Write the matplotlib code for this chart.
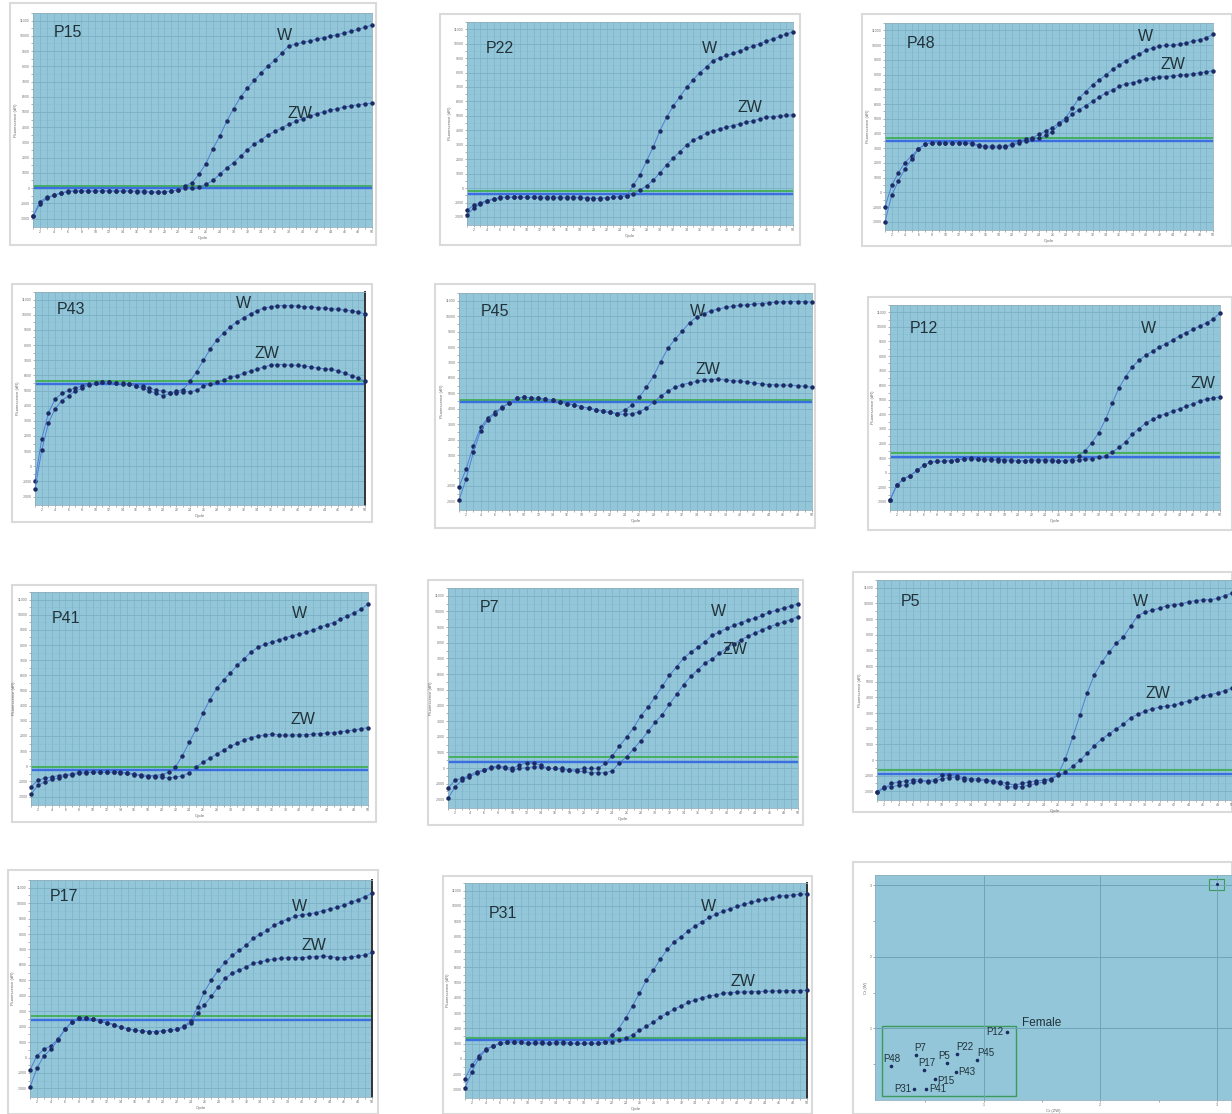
import numpy as np
import matplotlib.pyplot as plt
from matplotlib.patches import Rectangle

plt.rcParams['font.family'] = ['Liberation Sans', 'DejaVu Sans']

W_PX, H_PX = 1232, 1114

# amplification data (0 = bottom of plot, 100 = top)
cycles = np.arange(1, 51)

p15_w = [5, 12, 14, 15, 16, 17, 17, 17, 17, 17,
         17, 17, 17, 17, 17, 17, 17, 16.5, 16.5, 16.5,
         17, 17.5, 19.5, 21, 25, 30, 37, 43, 50, 56,
         61.5, 65.7, 69.3, 73, 76.3, 79, 82.5, 85.7, 86.5, 87.3,
         88, 88.8, 89.5, 90.2, 91, 91.8, 92.6, 93.5, 94.5, 95.5]
p15_zw = [5, 11, 13.5, 15, 16, 16.5, 17, 17, 17, 17,
          17, 17, 17, 17, 17, 16.5, 16.5, 16.5, 16.5, 16.5,
          17, 17.5, 18.4, 18.5, 19, 20.2, 22, 25, 28, 30.4,
          33.5, 36.6, 39.2, 41.3, 43.6, 45.2, 47, 48.6, 50, 51.3,
          52.5, 53.5, 54.5, 55.3, 56, 56.7, 57.3, 57.8, 58.2, 58.6]

p22_w = [7.3, 9.8, 11, 12.2, 13, 13.8, 13.8, 13.8, 13.8, 13.8,
         13.8, 13.8, 13.8, 13.8, 13.8, 13.8, 13.8, 13.8, 13.5, 13.3,
         13.3, 13.5, 13.8, 14.2, 14.6, 19.8, 25, 32, 39, 47,
         53.7, 59.3, 64, 68.6, 72.4, 76, 78.9, 82, 83.4, 84.5,
         85.6, 86.8, 88, 89.2, 90.4, 91.6, 92.8, 94, 95.2, 96.3]
p22_zw = [4.9, 8.5, 10.5, 12, 12.8, 13.5, 13.8, 13.8, 13.8, 13.8,
          13.8, 13.5, 13.5, 13.5, 13.5, 13.5, 13.5, 13.5, 13.2, 13.2,
          13.2, 13.5, 13.8, 14.2, 14.6, 15.4, 17.5, 19.5, 22.4, 26,
          30, 33.3, 36.6, 39.8, 42.3, 44, 45.9, 46.7, 48, 48.8,
          49.6, 50.4, 51.2, 52, 52.8, 53.7, 54, 54.3, 54.6, 55]

p48_w = [4, 17, 24, 30, 34.7, 39.5, 42, 42.7, 42.7, 42.7,
         42.7, 42.7, 42.7, 42.5, 41.5, 41, 41, 41, 41, 42,
         43.5, 44.4, 45, 46.8, 48.4, 50, 52.4, 54.8, 59.7, 64.5,
         67.7, 71, 73.4, 75.8, 78.5, 80.6, 82.7, 84.7, 86, 88,
         89, 89.8, 90.3, 90.3, 90.8, 91.4, 92.4, 93, 94, 95.6]
p48_zw = [11.3, 21.8, 28, 33, 36.3, 39.5, 42, 42.7, 42.7, 42.7,
          42.7, 42.7, 42.5, 42, 41, 40.5, 40.5, 40.5, 40.5, 41.5,
          42.5, 43.5, 44.4, 44.8, 46.3, 48, 51.6, 54, 56.5, 58.9,
          60.8, 63, 65, 67, 68.5, 70.2, 71.5, 72, 73, 73.7,
          74.2, 74.7, 75, 75.3, 75.6, 76, 76.4, 76.8, 77.3, 77.9]

p43_w = [7.6, 26, 39, 45.8, 49.6, 52, 54.2, 55.5, 57.2, 58,
         58.5, 58.5, 58, 57.5, 57.3, 56.5, 55.4, 54.2, 53, 52,
         53, 54, 54.8, 58.8, 63.4, 68.7, 74, 78.6, 81.7, 84.7,
         87, 89, 90.8, 92.4, 93.6, 94.2, 94.7, 94.7, 94.7, 94.5,
         94.2, 94, 93.8, 93.5, 93.2, 93, 92.6, 92.2, 91.6, 90.8]
p43_zw = [11.5, 31.3, 43.8, 50.4, 53, 54.5, 55.7, 56.5, 57.5, 58,
          58.5, 58.5, 58, 57.8, 57.3, 56.5, 56.5, 55.7, 54.5, 54.2,
          53.4, 53.4, 53.8, 53.8, 54.5, 56.5, 57.5, 58.5, 59.5, 60.6,
          61.5, 62.6, 63.7, 64.6, 65.6, 66.4, 66.7, 66.7, 66.4, 66.4,
          66, 65.6, 65, 64.7, 64.4, 63.8, 62.6, 61.5, 60.3, 58.8]

p45_w = [4.6, 14.6, 27, 37, 42, 45, 47.7, 50, 52.3, 52.6,
         52.3, 52, 51.8, 51.2, 50.5, 49.6, 49, 48.2, 47.4, 46.8,
         46, 45.5, 45, 46.5, 49, 52.6, 57.2, 62.5, 69.2, 75.4,
         79.7, 83.4, 87.4, 90, 91.5, 93, 93.7, 94.5, 95, 95.4,
         95.7, 96, 96.3, 96.6, 96.9, 97, 97.2, 97.2, 97.2, 96.9]
p45_zw = [10.8, 19.2, 30, 38.5, 43, 45.5, 48, 50, 52, 52.6,
          52.3, 52, 51.8, 51.2, 50.5, 49.6, 49, 48.2, 47.4, 46.8,
          46, 45.5, 44.8, 44.6, 44.8, 45.8, 47.4, 50.5, 53, 55.4,
          57.2, 58.5, 59.2, 60, 60.5, 60.8, 61, 60.6, 60.3, 60,
          59.7, 59.2, 58.8, 58.5, 58.3, 58.2, 58.2, 58, 57.7, 57.2]

p12_w = [4.9, 12.2, 15.4, 17, 19.5, 22, 23.6, 24, 24, 24.4,
         24.9, 25.2, 25.5, 25.3, 25, 25, 25, 24.8, 24.6, 24.4,
         24.4, 24.6, 24.8, 24.8, 24.6, 24.4, 24.4, 24.8, 26.8, 29.3,
         33.3, 38.2, 44.7, 52.8, 60.2, 65.9, 70.7, 74, 76.4, 78.4,
         80.5, 82, 84, 86, 87.6, 89.2, 90.8, 92.5, 94.3, 97.3]
p12_zw = [4.9, 12.2, 15.4, 17, 19.5, 22, 23.6, 24, 24, 24.4,
          24.9, 25.2, 25.2, 25, 24.8, 24.6, 24.4, 24.4, 24.2, 24.2,
          24.2, 24.4, 24.4, 24.4, 24.2, 24, 24.2, 24.4, 24.6, 25,
          25.3, 26, 26.8, 28.5, 30.9, 33.7, 37.4, 40.2, 43, 44.7,
          46.3, 47.6, 48.8, 50, 51.2, 52.5, 53.7, 54.8, 55.3, 55.8]

p41_w = [8.6, 11.7, 12.8, 13.3, 14, 14.4, 14.8, 15.6, 15.6, 15.6,
         15.6, 15.6, 15.6, 15.6, 15.3, 14.8, 14.4, 14, 14, 14.4,
         15.6, 18, 23.4, 29.7, 36, 43.7, 50, 55.5, 59.4, 62.8,
         66.4, 69.5, 72.7, 75, 76.3, 77.4, 78.4, 79.5, 80.5, 81.2,
         82, 83.1, 84.4, 85.6, 86.7, 88.3, 89.8, 91.4, 93, 95.6]
p41_zw = [5, 9.4, 10.9, 12.2, 12.8, 13.8, 14.4, 15, 15.3, 15.6,
          15.6, 15.6, 15.6, 15.3, 15, 14.4, 13.8, 13.5, 13.3, 13.3,
          12.8, 13.3, 13.8, 15.3, 18, 20.3, 22.2, 24.2, 26.1, 27.8,
          29.4, 31, 32, 32.8, 33.3, 33.6, 33.3, 33.1, 33.3, 33.3,
          33.4, 33.6, 33.9, 34.1, 34.4, 34.8, 35.2, 35.6, 36.3, 36.7]

p7_w = [9, 12.9, 13.6, 15, 16.7, 17.4, 18.9, 19.2, 18.9, 18.2,
        19.7, 20.8, 20.5, 19.7, 18.2, 18.2, 18.2, 17.4, 17.7, 18.2,
        18.2, 18.2, 20.5, 23.8, 28.5, 32.6, 37, 42.4, 46.5, 51,
        56, 61, 65, 69, 71.7, 74, 76.5, 79.5, 81, 82.6,
        84, 85.3, 86.4, 87.4, 88.6, 90, 91, 92, 92.9, 94]
p7_zw = [4.5, 9.8, 12.9, 14.4, 15.9, 17.4, 18.2, 18.9, 18.2, 17.4,
         18.2, 18.5, 18.9, 18.9, 18.2, 18.2, 17.7, 17.4, 16.8, 16.8,
         16.2, 16.2, 16.2, 17.1, 20.8, 23.5, 27.3, 31, 35.2, 39.4,
         43, 47.7, 52.3, 56.8, 60.6, 63.6, 66.7, 68.6, 71.2, 73.5,
         75.5, 77.3, 79, 80.5, 82, 83.3, 84.5, 85.5, 86.7, 88]

p5_w = [3.8, 5.3, 7.6, 8.3, 8.8, 9.4, 9.1, 8.8, 9.4, 11.4,
        11.4, 10.9, 10.3, 9.8, 9.7, 9.4, 8.8, 8.3, 7.6, 6.8,
        7.6, 8.3, 8.8, 9.1, 9.8, 11.8, 19, 28.8, 39, 49.2,
        57.6, 63.3, 67.9, 72, 75, 80, 84.8, 86.4, 87.4, 88.2,
        89.4, 89.8, 90.2, 91.2, 91.7, 92.1, 92.1, 92.7, 94, 95.2]
p5_zw = [3.8, 6, 6, 6.8, 6.8, 8.3, 8.6, 8.3, 8.6, 9.8,
         10.3, 10.3, 9.4, 9.1, 9.1, 8.8, 8.3, 7.6, 6, 6,
         6.2, 6.8, 7.6, 8.3, 9.4, 11.4, 12.9, 15.5, 18.2, 21.5,
         25, 28, 30.3, 32.6, 34.8, 37.9, 39.4, 40.9, 42, 42.7,
         43.2, 43.6, 44.7, 45.5, 46.7, 47.7, 48.5, 49.2, 50.3, 51.5]

p17_w = [4.6, 13.5, 19.2, 22.3, 26.5, 31.5, 35, 37, 37, 36.5,
         35.4, 34.6, 33.8, 32.6, 31.8, 31.2, 30.8, 30.5, 30.5, 30.8,
         31.1, 31.5, 33, 35.4, 41.8, 49.2, 54.6, 59.2, 63, 66,
         68.5, 70.8, 74, 76, 77.7, 80, 81.8, 83, 84.3, 85,
         85.4, 86, 86.9, 87.7, 88.5, 89.5, 90.8, 92, 93.5, 95]
p17_zw = [12.6, 19.2, 22.3, 23.8, 27, 31.5, 35, 37, 37, 36.5,
          35.4, 34.6, 33.8, 32.6, 31.8, 31.2, 30.8, 30.5, 30.5, 30.8,
          31.1, 31.5, 32.5, 34.6, 39.2, 43, 47, 51.5, 55.4, 57.7,
          59.2, 60.8, 62.3, 63, 63.8, 64.3, 64.6, 65, 65, 65,
          65.2, 65.4, 65.8, 65.4, 65, 65, 65.2, 65.8, 66.2, 67.4]

p31_w = [4.7, 12.4, 19, 22.5, 24.5, 25.7, 26.2, 26.5, 26.2, 25.7,
         26.2, 26.2, 25.7, 26.2, 26.2, 26, 25.7, 25.7, 25.9, 25.7,
         26.2, 29.8, 32.6, 37.5, 43.4, 49.3, 55.5, 60.2, 65.4, 70,
         73.6, 76, 78.8, 80.9, 83, 85, 86.5, 88, 89.1, 90.2,
         91.2, 92.1, 93, 93.6, 94.3, 94.9, 95.3, 95.6, 95.8, 96.1]
p31_zw = [9, 15.5, 20, 23, 24.5, 25.7, 26.2, 26.2, 26.2, 25.7,
          25.7, 25.7, 25.7, 25.9, 25.9, 25.7, 25.7, 25.7, 25.7, 25.7,
          26.2, 26.5, 27.1, 28.2, 29.8, 31.8, 33.8, 35.7, 38, 40,
          41.9, 43.4, 45, 46.2, 47.3, 48, 48.5, 49.3, 49.6, 49.8,
          49.9, 50, 50.1, 50.2, 50.3, 50.4, 50.5, 50.5, 50.6, 50.7]

# threshold lines (green, blue)
thresholds = {
    "P15": (19.6, 18.5), "P22": (17.0, 15.4), "P48": (45.0, 43.5),
    "P43": (58.8, 57.5), "P45": (51.5, 50.5), "P12": (28.1, 26.3),
    "P41": (18.0, 16.7), "P7": (23.5, 21.2), "P5": (14.0, 12.1),
    "P17": (37.7, 35.8), "P31": (28.4, 27.5),
}

# scatter of samples
samples = ["P12", "P7", "P48", "P17", "P5", "P22", "P45", "P43", "P15", "P31", "P41"]
ct_x = [1.20, 0.42, 0.21, 0.49, 0.69, 0.77, 0.94, 0.76, 0.58, 0.40, 0.51]
ct_y = [0.95, 0.63, 0.47, 0.42, 0.51, 0.64, 0.56, 0.39, 0.29, 0.15, 0.15]
control_x, control_y = [3.0], [3.01]

# layout: axes box in px (x0, x1, y0, y1), frame box, text positions
panels = [
    ("P15", p15_w, p15_zw, (33, 372, 13, 227), (10, 376, 3, 245), (0.06, 0.91), (0.72, 0.895), (0.75, 0.53)),
    ("P22", p22_w, p22_zw, (467, 793, 22, 225), (440, 800, 14, 245), (0.056, 0.87), (0.72, 0.87), (0.83, 0.58)),
    ("P48", p48_w, p48_zw, (885, 1213, 23, 230), (862, 1232, 14, 246), (0.066, 0.9), (0.77, 0.935), (0.84, 0.8)),
    ("P43", p43_w, p43_zw, (35, 365, 292, 505), (12, 372, 284, 522), (0.066, 0.92), (0.61, 0.946), (0.665, 0.71)),
    ("P45", p45_w, p45_zw, (459, 812, 293, 510), (435, 815, 284, 528), (0.063, 0.915), (0.655, 0.915), (0.67, 0.646)),
    ("P12", p12_w, p12_zw, (890, 1220, 305, 510), (868, 1232, 297, 530), (0.06, 0.886), (0.76, 0.886), (0.91, 0.618)),
    ("P41", p41_w, p41_zw, (31, 368, 592, 805), (12, 376, 585, 822), (0.062, 0.875), (0.775, 0.9), (0.77, 0.4)),
    ("P7", p7_w, p7_zw, (448, 798, 588, 808), (428, 803, 580, 825), (0.09, 0.91), (0.75, 0.894), (0.785, 0.72)),
    ("P5", p5_w, p5_zw, (877, 1232, 580, 800), (853, 1232, 572, 812), (0.066, 0.9), (0.72, 0.9), (0.755, 0.485)),
    ("P17", p17_w, p17_zw, (30, 372, 880, 1097), (8, 378, 870, 1114), (0.058, 0.923), (0.765, 0.877), (0.795, 0.7)),
    ("P31", p31_w, p31_zw, (465, 807, 883, 1098), (443, 812, 876, 1114), (0.068, 0.86), (0.69, 0.89), (0.775, 0.54)),
]

BG = "#92c6d8"
DOT = "#1c2b63"
TXT = "#22323a"


def px_box(box):
    x0, x1, y0, y1 = box
    return [x0 / W_PX, 1 - y1 / H_PX, (x1 - x0) / W_PX, (y1 - y0) / H_PX]


def add_frame(fig, box):
    l, b, w, h = px_box(box)
    fig.patches.append(Rectangle((l, b), w, h, transform=fig.transFigure,
                                 facecolor="white", edgecolor="#dadada", lw=1.5, zorder=-5))


def amp_panel(fig, name, w, zw, box, name_pos, w_pos, zw_pos):
    ax = fig.add_axes(px_box(box))
    ax.set_facecolor(BG)
    ax.set_xlim(1, 50)
    ax.set_ylim(0, 100)
    ax.set_xticks(np.arange(2, 51, 2))
    ax.set_xticks(cycles, minor=True)
    yt = np.arange(4, 100, 7.2)
    ax.set_yticks(yt)
    ax.set_yticks(yt + 3.6, minor=True)
    ax.grid(which="major", axis="y", color="#7bb0c4", lw=0.6)
    ax.grid(which="minor", axis="y", color="#7fb3c7", lw=0.5, ls=(0, (1, 2)))
    ax.grid(which="both", axis="x", color="#7fb3c7", lw=0.5)
    ax.set_xticklabels([str(c) for c in range(2, 51, 2)], fontsize=2.5, color="#666")
    ax.set_yticklabels([str((i - 2) * 1000) for i in range(len(yt))], fontsize=2.5, color="#666")
    ax.tick_params(which="both", length=1.5, width=0.4, pad=1, colors="#777")
    ax.tick_params(axis="x", labelcolor="#666")
    ax.set_xlabel("Cycle", fontsize=3, color="#666", labelpad=1)
    ax.set_ylabel("Fluorescence (dR)", fontsize=3, color="#666", labelpad=1)
    for s in ax.spines.values():
        s.set_color("#8fb0bd")
        s.set_linewidth(0.6)
    if name in ("P43", "P17", "P31"):
        ax.spines["right"].set_color("#333")
        ax.spines["right"].set_linewidth(1.4)
    g, b = thresholds[name]
    ax.axhline(g, color="#3fae55", lw=1.3, zorder=2)
    ax.axhline(b, color="#3b6ee0", lw=1.7, zorder=2)
    for ys in (zw, w):
        ax.plot(cycles, ys, color="#4f7fd6", lw=0.7, marker="o", ms=2.2,
                mfc=DOT, mec=DOT, clip_on=False, zorder=3)
    ax.text(*name_pos, name, transform=ax.transAxes, fontsize=11.5, color=TXT, ha="left", va="center")
    ax.text(*w_pos, "W", transform=ax.transAxes, fontsize=11.5, color=TXT, ha="left", va="center")
    ax.text(*zw_pos, "ZW", transform=ax.transAxes, fontsize=11.5, color=TXT, ha="left", va="center")


def scatter_panel(fig):
    add_frame(fig, (853, 1232, 862, 1114))
    ax = fig.add_axes(px_box((875, 1232, 875, 1100)))
    ax.set_facecolor(BG)
    ax.set_xlim(0.07, 3.13)
    ax.set_ylim(0, 3.14)
    ax.set_xticks([1, 2, 3])
    ax.set_xticks([0.5, 1.5, 2.5], minor=True)
    ax.set_yticks([1, 2, 3])
    ax.set_yticks([0.5, 1.5, 2.5], minor=True)
    ax.grid(which="major", color="#6ea4b9", lw=0.7)
    ax.tick_params(which="both", length=1.5, width=0.4, labelsize=2.5, colors="#666", pad=1)
    ax.set_xlabel("Ct (ZW)", fontsize=3, color="#666", labelpad=1)
    ax.set_ylabel("Ct (W)", fontsize=3, color="#666", labelpad=1)
    for s in ax.spines.values():
        s.set_color("#8fb0bd")
        s.set_linewidth(0.6)

    ax.add_patch(Rectangle((0.127, 0.056), 1.15, 0.98, fill=False, edgecolor="#3c9b5c", lw=1))
    ax.add_patch(Rectangle((2.93, 2.93), 0.134, 0.15, fill=False, edgecolor="#3c9b5c", lw=0.8))
    ax.plot(ct_x, ct_y, "o", ms=1.6, color=DOT, ls="none")
    ax.plot(control_x, control_y, "o", ms=1.2, color=DOT, ls="none")

    offsets = {
        "P12": (-0.03, 0.0, "right"), "P7": (-0.01, 0.1, "left"),
        "P48": (0.0, 0.1, "center"), "P17": (0.02, 0.09, "center"),
        "P5": (-0.03, 0.1, "center"), "P22": (0.0, 0.1, "left"),
        "P45": (0.01, 0.1, "left"), "P43": (0.02, 0.0, "left"),
        "P15": (0.025, -0.02, "left"), "P31": (-0.02, 0.0, "right"),
        "P41": (0.025, 0.0, "left"),
    }
    for name, x, y in zip(samples, ct_x, ct_y):
        dx, dy, ha = offsets[name]
        ax.text(x + dx, y + dy, name, fontsize=7, color=TXT, ha=ha, va="center")
    ax.text(1.33, 1.07, "Female", fontsize=8.5, color=TXT, ha="left", va="center")


fig = plt.figure(figsize=(W_PX / 100, H_PX / 100), dpi=100)
for name, w, zw, box, frame, npos, wpos, zwpos in panels:
    add_frame(fig, frame)
    amp_panel(fig, name, w, zw, box, npos, wpos, zwpos)
scatter_panel(fig)

fig.savefig("out.png", dpi=100)
